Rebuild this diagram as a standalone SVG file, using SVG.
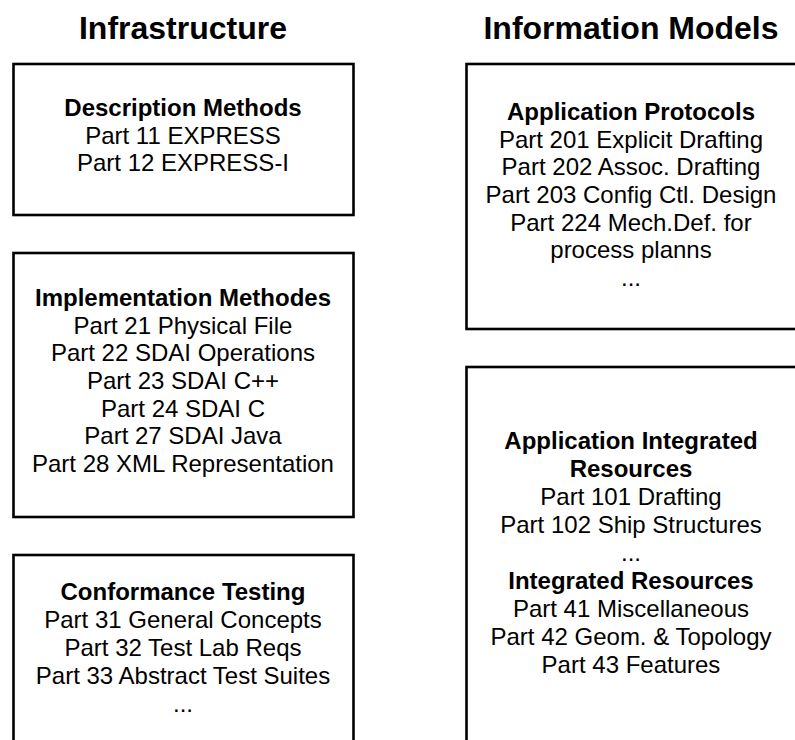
<svg xmlns="http://www.w3.org/2000/svg" width="795" height="740" viewBox="0 0 795 740">
<style>
.box{fill:#fff;stroke:#000;stroke-width:2.6}
text{font-family:"Liberation Sans",Arial,sans-serif;fill:#000;text-anchor:middle}
.t{font-size:32px;font-weight:bold}
.h{font-size:24px;font-weight:bold}
.b{font-size:24px}
</style>
<rect width="795" height="740" fill="#fff"/>
<g id="title-left"><text class="t" x="183" y="39">Infrastructure</text></g>
<g id="title-right"><text class="t" x="631" y="39">Information Models</text></g>
<g id="description-methods">
<rect class="box" x="13.5" y="64" width="340" height="151"/>
<text class="h" x="183" y="116">Description Methods</text>
<text class="b" x="183" y="144">Part 11 EXPRESS</text>
<text class="b" x="183" y="171">Part 12 EXPRESS-I</text>
</g>
<g id="implementation-methods">
<rect class="box" x="13.5" y="253" width="340" height="264"/>
<text class="h" x="183" y="306">Implementation Methodes</text>
<text class="b" x="183" y="334">Part 21 Physical File</text>
<text class="b" x="183" y="361">Part 22 SDAI Operations</text>
<text class="b" x="183" y="389">Part 23 SDAI C++</text>
<text class="b" x="183" y="417">Part 24 SDAI C</text>
<text class="b" x="183" y="444">Part 27 SDAI Java</text>
<text class="b" x="183" y="472">Part 28 XML Representation</text>
</g>
<g id="conformance-testing">
<rect class="box" x="13.5" y="555" width="340" height="190"/>
<text class="h" x="183" y="600">Conformance Testing</text>
<text class="b" x="183" y="628">Part 31 General Concepts</text>
<text class="b" x="183" y="656">Part 32 Test Lab Reqs</text>
<text class="b" x="183" y="684">Part 33 Abstract Test Suites</text>
<text class="b" x="183" y="712">...</text>
</g>
<g id="application-protocols">
<rect class="box" x="466.5" y="64" width="332" height="265"/>
<text class="h" x="631" y="120">Application Protocols</text>
<text class="b" x="631" y="148">Part 201 Explicit Drafting</text>
<text class="b" x="631" y="175">Part 202 Assoc. Drafting</text>
<text class="b" x="631" y="203">Part 203 Config Ctl. Design</text>
<text class="b" x="631" y="231">Part 224 Mech.Def. for</text>
<text class="b" x="631" y="258">process planns</text>
<text class="b" x="631" y="286">...</text>
</g>
<g id="resources">
<rect class="box" x="466.5" y="367" width="332" height="380"/>
<text class="h" x="631" y="449">Application Integrated</text>
<text class="h" x="631" y="477">Resources</text>
<text class="b" x="631" y="505">Part 101 Drafting</text>
<text class="b" x="631" y="533">Part 102 Ship Structures</text>
<text class="b" x="631" y="561">...</text>
<text class="h" x="631" y="589">Integrated Resources</text>
<text class="b" x="631" y="617">Part 41 Miscellaneous</text>
<text class="b" x="631" y="645">Part 42 Geom. &amp; Topology</text>
<text class="b" x="631" y="673">Part 43 Features</text>
</g>
<g id="connectors"></g>
</svg>
